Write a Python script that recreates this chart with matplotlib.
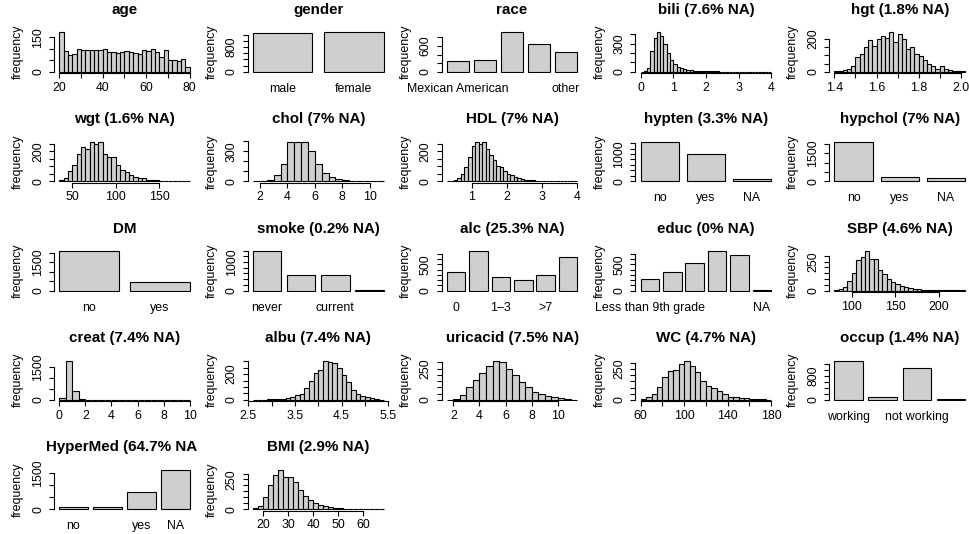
import numpy as np
import matplotlib
matplotlib.use("Agg")
import matplotlib.pyplot as plt
from matplotlib.transforms import Bbox, TransformedBbox

plt.rcParams['font.family'] = ['Liberation Sans', 'DejaVu Sans']

# ---------------------------------------------------------------- data
# continuous variables: histogram bin edges and counts
age_breaks = np.arange(20, 80.01, 2)
age_counts = [172, 90, 72, 78, 100, 95, 93, 93, 93, 97, 100, 88, 88, 80, 87,
              91, 88, 82, 78, 96, 90, 100, 88, 64, 96, 51, 51, 48, 55, 21]

bili_breaks = np.arange(0, 4.001, 0.1)
bili_counts = [0, 5, 40, 220, 360, 420, 380, 300, 200, 120, 80, 45, 35, 25,
               20, 15, 10, 8, 6, 5, 4, 4, 3, 3, 2, 2, 2, 1, 2, 1, 1, 1, 1, 0,
               1, 0, 1, 0, 0, 1]

hgt_breaks = np.arange(1.40, 2.0201, 0.02)
hgt_counts = [4, 7, 11, 16, 36, 90, 110, 150, 195, 155, 200, 220, 205, 240,
              180, 230, 200, 140, 150, 105, 95, 70, 50, 36, 18, 32, 18, 9, 5,
              3, 2]

wgt_breaks = np.arange(35, 185.01, 5)
wgt_counts = [5, 20, 65, 110, 185, 230, 215, 265, 250, 265, 185, 160, 160,
              110, 75, 60, 40, 30, 22, 18, 10, 8, 5, 4, 3, 4, 2, 1, 2, 1]

chol_breaks = np.arange(1.5, 11.001, 0.5)
chol_counts = [1, 3, 15, 60, 170, 390, 395, 390, 300, 175, 80, 40, 20, 12, 5,
               3, 2, 2, 1]

HDL_breaks = np.arange(0.3, 4.0001, 0.1)
HDL_counts = [1, 3, 8, 20, 45, 95, 160, 235, 260, 250, 265, 215, 175, 140,
              100, 95, 70, 50, 40, 30, 20, 12, 10, 7, 5, 4, 3, 2, 2, 1, 1, 1,
              1, 0, 1, 0, 1]

SBP_breaks = np.arange(80, 230.01, 5)
SBP_counts = [3, 10, 30, 80, 150, 265, 290, 340, 270, 270, 175, 145, 100, 75,
              55, 40, 30, 22, 15, 10, 7, 5, 3, 2, 2, 1, 1, 1, 1, 1]

creat_breaks = np.arange(0, 10.001, 0.5)
creat_counts = [90, 1780, 420, 28, 8, 4, 2, 2, 1, 1, 1, 1, 1, 1, 1, 0, 1, 1,
                1, 1]

albu_breaks = np.arange(2.6, 5.4001, 0.1)
albu_counts = [2, 3, 2, 4, 5, 8, 10, 12, 25, 35, 45, 95, 145, 210, 235, 305,
               295, 285, 250, 190, 135, 80, 45, 30, 20, 12, 8, 3]

uricacid_breaks = np.arange(1.5, 11.501, 0.5)
uricacid_counts = [3, 10, 40, 105, 160, 215, 275, 315, 300, 250, 200, 145,
                   100, 65, 45, 30, 20, 12, 6, 3]

WC_breaks = np.arange(60, 180.01, 5)
WC_counts = [5, 20, 50, 105, 190, 235, 240, 290, 320, 275, 225, 150, 110, 95,
             70, 50, 25, 22, 18, 12, 8, 5, 4, 3]

BMI_breaks = np.arange(16, 68.01, 2)
BMI_counts = [8, 30, 100, 200, 290, 330, 275, 270, 230, 160, 115, 80, 57, 37,
              28, 17, 11, 8, 5, 4, 3, 2, 2, 1, 1, 1]

# categorical variables: levels and counts
gender_levels = ["male", "female"]
gender_counts = [1255, 1270]
race_levels = ["Mexican American", "Other Hispanic", "Non-Hispanic White",
               "Non-Hispanic Black", "other"]
race_counts = [249, 265, 920, 639, 452]
hypten_levels = ["no", "yes", "NA"]
hypten_counts = [1450, 990, 85]
hypchol_levels = ["no", "yes", "NA"]
hypchol_counts = [2120, 228, 177]
DM_levels = ["no", "yes"]
DM_counts = [2090, 435]
smoke_levels = ["never", "former", "current", "NA"]
smoke_counts = [1380, 560, 540, 5]
alc_levels = ["0", "<=1", "1\u20133", "3\u20137", ">7", "NA"]
alc_counts = [360, 750, 248, 205, 297, 639]
educ_levels = ["Less than 9th grade", "9-11th grade", "High school graduate",
               "some college", "College or above", "NA"]
educ_counts = [217, 360, 528, 751, 670, 1]
occup_levels = ["working", "looking for work", "not working", "NA"]
occup_counts = [1314, 103, 1056, 35]
HyperMed_levels = ["no", "previous", "yes", "NA"]
HyperMed_counts = [100, 75, 716, 1634]

# ---------------------------------------------------------------- panels
# (title, kind, x data, counts, y ticks, labelled y ticks, x ticks / shown names, x tick labels)
panels = [
    ("age", "hist", age_breaks, age_counts, [0, 50, 100, 150], [0, 150],
     [20, 30, 40, 50, 60, 70, 80], {20: "20", 40: "40", 60: "60", 80: "80"}),
    ("gender", "bar", gender_levels, gender_counts, list(range(0, 1201, 200)), [0, 800],
     [0, 1], None),
    ("race", "bar", race_levels, race_counts, list(range(0, 801, 200)), [0, 600],
     [0, 4], None),
    ("bili (7.6% NA)", "hist", bili_breaks, bili_counts, [0, 100, 200, 300, 400], [0, 300],
     [0, 1, 2, 3, 4], {0: "0", 1: "1", 2: "2", 3: "3", 4: "4"}),
    ("hgt (1.8% NA)", "hist", hgt_breaks, hgt_counts, [0, 50, 100, 150, 200], [0, 200],
     [1.4, 1.5, 1.6, 1.7, 1.8, 1.9, 2.0], {1.4: "1.4", 1.6: "1.6", 1.8: "1.8", 2.0: "2.0"}),

    ("wgt (1.6% NA)", "hist", wgt_breaks, wgt_counts, [0, 50, 100, 150, 200, 250], [0, 200],
     [50, 100, 150], {50: "50", 100: "100", 150: "150"}),
    ("chol (7% NA)", "hist", chol_breaks, chol_counts, [0, 100, 200, 300, 400], [0, 300],
     [2, 4, 6, 8, 10], {2: "2", 4: "4", 6: "6", 8: "8", 10: "10"}),
    ("HDL (7% NA)", "hist", HDL_breaks, HDL_counts, [0, 50, 100, 150, 200, 250], [0, 200],
     [1, 2, 3, 4], {1: "1", 2: "2", 3: "3", 4: "4"}),
    ("hypten (3.3% NA)", "bar", hypten_levels, hypten_counts, list(range(0, 1401, 200)), [0, 1000],
     [0, 1, 2], None),
    ("hypchol (7% NA)", "bar", hypchol_levels, hypchol_counts, [0, 500, 1000, 1500, 2000], [0, 1500],
     [0, 1, 2], None),

    ("DM", "bar", DM_levels, DM_counts, [0, 500, 1000, 1500, 2000], [0, 1500],
     [0, 1], None),
    ("smoke (0.2% NA)", "bar", smoke_levels, smoke_counts, list(range(0, 1401, 200)), [0, 1000],
     [0, 2], None),
    ("alc (25.3% NA)", "bar", alc_levels, alc_counts, list(range(0, 701, 100)), [0, 500],
     [0, 2, 4], None),
    ("educ (0% NA)", "bar", educ_levels, educ_counts, list(range(0, 701, 100)), [0, 500],
     [0, 5], None),
    ("SBP (4.6% NA)", "hist", SBP_breaks, SBP_counts, [0, 50, 100, 150, 200, 250, 300], [0, 250],
     [100, 150, 200], {100: "100", 150: "150", 200: "200"}),

    ("creat (7.4% NA)", "hist", creat_breaks, creat_counts, [0, 500, 1000, 1500], [0, 1500],
     [0, 2, 4, 6, 8, 10], {0: "0", 2: "2", 4: "4", 6: "6", 8: "8", 10: "10"}),
    ("albu (7.4% NA)", "hist", albu_breaks, albu_counts, [0, 50, 100, 150, 200, 250, 300], [0, 200],
     [2.5, 3.0, 3.5, 4.0, 4.5, 5.0, 5.5], {2.5: "2.5", 3.5: "3.5", 4.5: "4.5", 5.5: "5.5"}),
    ("uricacid (7.5% NA)", "hist", uricacid_breaks, uricacid_counts, [0, 50, 100, 150, 200, 250, 300], [0, 250],
     [2, 4, 6, 8, 10], {2: "2", 4: "4", 6: "6", 8: "8", 10: "10"}),
    ("WC (4.7% NA)", "hist", WC_breaks, WC_counts, [0, 50, 100, 150, 200, 250, 300], [0, 250],
     [60, 80, 100, 120, 140, 160, 180], {60: "60", 100: "100", 140: "140", 180: "180"}),
    ("occup (1.4% NA)", "bar", occup_levels, occup_counts, list(range(0, 1201, 200)), [0, 800],
     [0, 2], None),

    ("HyperMed (64.7% NA)", "bar", HyperMed_levels, HyperMed_counts, [0, 500, 1000, 1500], [0, 1500],
     [0, 2, 3], None),
    ("BMI (2.9% NA)", "hist", BMI_breaks, BMI_counts, [0, 50, 100, 150, 200, 250, 300], [0, 250],
     [20, 30, 40, 50, 60], {20: "20", 30: "30", 40: "40", 50: "50", 60: "60"}),
]

# ---------------------------------------------------------------- layout (pixels)
FW, FH, DPI = 969, 534, 100
COL_W = 193.8
ROW_H = 109.4
PLOT_L = 54.0      # left edge of the plot region inside a column
PLOT_W = 141.0
PLOT_H = 42.5
BASE0 = 71.7       # y of the zero line in the first row
TITLE_UP = 21.0    # title centre above the plot region

FILL = "#cfcfcf"
LW = 0.8
FS_TICK = 8.9
FS_TITLE = 10.9
PT = 0.72          # points per pixel at 100 dpi

fig = plt.figure(figsize=(FW / DPI, FH / DPI), dpi=DPI)
fig.patch.set_facecolor("white")

for k, (title, kind, xdata, counts, yt, ylab_shown, xt, xlabels) in enumerate(panels):
    row, col = divmod(k, 5)
    base = BASE0 + row * ROW_H
    bottom = base + PLOT_H * 0.04 / 1.08
    left = PLOT_L + col * COL_W
    ax = fig.add_axes([left / FW, 1 - bottom / FH, PLOT_W / FW, PLOT_H / FH])

    counts = np.asarray(counts, dtype=float)
    top = counts.max()
    ax.set_ylim(-0.04 * top, 1.04 * top)

    if kind == "hist":
        edges = np.asarray(xdata, dtype=float)
        ax.bar(edges[:-1], counts, width=np.diff(edges), align="edge",
               color=FILL, edgecolor="black", linewidth=LW)
        lo, hi = edges[0], edges[-1]
        pad = 0.04 * (hi - lo)
        ax.set_xlim(lo - pad, hi + pad)
        ax.set_xticks(xt)
        ax.spines["bottom"].set_bounds(xt[0], xt[-1])
        for v in xt:
            if v in xlabels:
                ax.annotate(xlabels[v], xy=(v, 0), xycoords=("data", "axes fraction"),
                            xytext=(0, -14.5 * PT), textcoords="offset points",
                            ha="center", va="center", fontsize=FS_TICK)
    else:
        n = len(counts)
        lefts = 0.2 + 1.2 * np.arange(n)
        ax.bar(lefts, counts, width=1.0, align="edge",
               color=FILL, edgecolor="black", linewidth=LW)
        lo, hi = 0.2, 1.2 * n
        pad = 0.04 * (hi - lo)
        ax.set_xlim(lo - pad, hi + pad)
        ax.set_xticks([])
        ax.spines["bottom"].set_visible(False)
        for i in xt:
            ax.annotate(xdata[i], xy=(lefts[i] + 0.5, 0), xycoords=("data", "axes fraction"),
                        xytext=(0, -15.5 * PT), textcoords="offset points",
                        ha="center", va="center", fontsize=FS_TICK)

    ax.set_yticks(yt)
    ax.spines["left"].set_bounds(yt[0], yt[-1])
    for v in ylab_shown:
        ax.annotate(str(v), xy=(0, v), xycoords=("axes fraction", "data"),
                    xytext=(-16 * PT, 0), textcoords="offset points",
                    rotation=90, ha="center", va="center", fontsize=FS_TICK)

    for s in ("top", "right"):
        ax.spines[s].set_visible(False)
    for s in ("left", "bottom"):
        ax.spines[s].set_linewidth(LW)
    ax.tick_params(direction="out", length=3.3, width=LW,
                   labelbottom=False, labelleft=False)
    ax.set_facecolor("none")

    ax.annotate("frequency", xy=(0, 0.5), xycoords="axes fraction",
                xytext=(-36 * PT, 0), textcoords="offset points",
                rotation=90, ha="center", va="center", fontsize=FS_TICK)

    t = ax.annotate(title, xy=(0.5, 1), xycoords="axes fraction",
                    xytext=(0, TITLE_UP * PT), textcoords="offset points",
                    ha="center", va="center", fontsize=FS_TITLE, fontweight="bold",
                    annotation_clip=False)
    # titles stay inside their own column
    cbox = Bbox([[col * COL_W / FW, 0], [((col + 1) * COL_W + 3) / FW, 1]])
    t.set_clip_box(TransformedBbox(cbox, fig.transFigure))
    t.set_clip_on(True)

fig.savefig("out.png", dpi=DPI, facecolor="white")
